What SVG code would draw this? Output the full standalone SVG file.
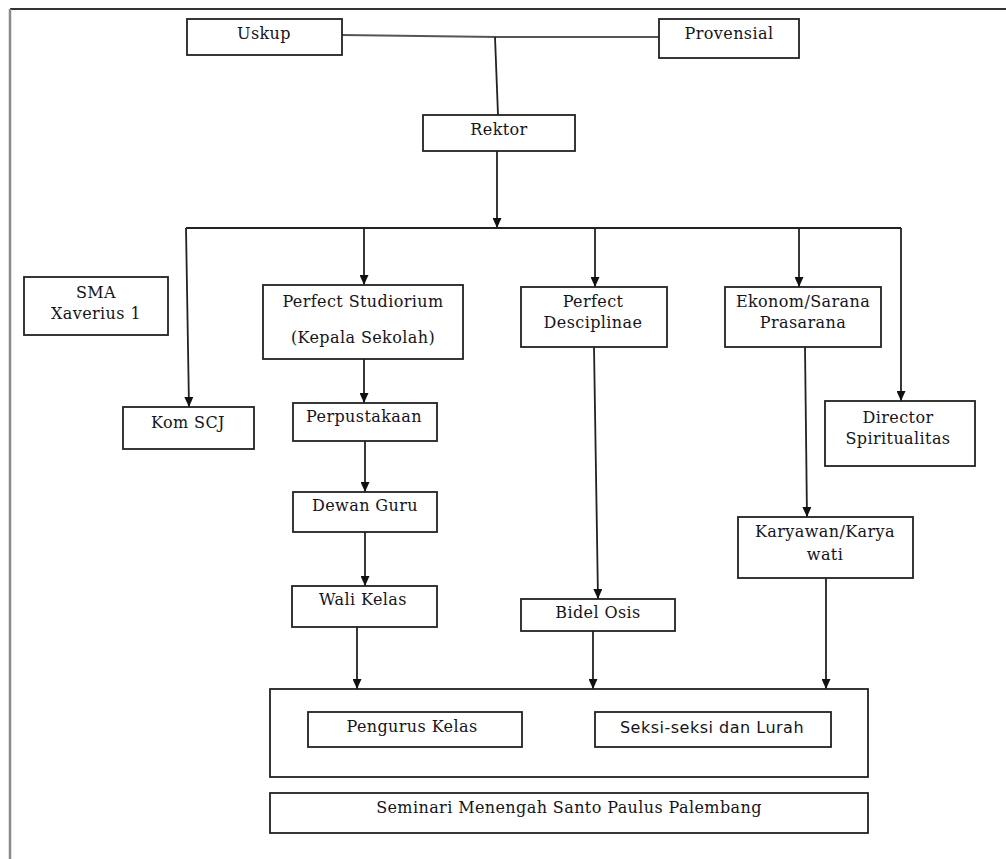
<svg xmlns="http://www.w3.org/2000/svg" width="1006" height="859" viewBox="0 0 1006 859">
<style>
  .box { fill: #ffffff; stroke: #222222; stroke-width: 1.8; }
  .t { font-family: "DejaVu Serif", "Liberation Serif", serif; font-size: 16px; letter-spacing: 0.4px; fill: #141420; text-anchor: middle; }
  .s { font-family: "DejaVu Sans", "Liberation Sans", sans-serif; font-size: 16px; letter-spacing: 0.5px; fill: #141420; text-anchor: middle; }
  .ln { fill: none; stroke: #222222; stroke-width: 1.8; }
  .gl { fill: none; stroke: #555555; stroke-width: 1.8; }
  .arr { fill: none; stroke: #222222; stroke-width: 1.8; marker-end: url(#ah); }
</style>
<defs>
  <marker id="ah" viewBox="0 0 10 9" refX="10" refY="4.5" markerWidth="10" markerHeight="9" markerUnits="userSpaceOnUse" orient="auto">
    <path d="M0,0 L10,4.5 L0,9 z" fill="#111111"/>
  </marker>
</defs>
<rect width="1006" height="859" fill="#ffffff"/>
<g id="frame">
  <line x1="10" y1="9" x2="1006" y2="9" stroke="#333333" stroke-width="1.8"/>
  <line x1="10" y1="9" x2="10" y2="859" stroke="#8a8a8a" stroke-width="2.5"/>
</g>
<g id="connectors">
  <polyline class="gl" points="342,35 497,37 659,37"/>
  <line class="ln" x1="495" y1="37" x2="498" y2="115"/>
  <line class="arr" x1="497" y1="151" x2="497" y2="228"/>
  <line class="ln" x1="186" y1="228" x2="901" y2="228"/>
  <line class="arr" x1="186" y1="228" x2="189" y2="407"/>
  <line class="arr" x1="364" y1="228" x2="364" y2="285"/>
  <line class="arr" x1="595" y1="228" x2="595" y2="287"/>
  <line class="arr" x1="799" y1="228" x2="799" y2="287"/>
  <line class="arr" x1="901" y1="228" x2="901" y2="401"/>
  <line class="arr" x1="364" y1="359" x2="364" y2="403"/>
  <line class="arr" x1="365" y1="441" x2="365" y2="492"/>
  <line class="arr" x1="365" y1="532" x2="365" y2="586"/>
  <line class="arr" x1="357" y1="627" x2="357" y2="689"/>
  <line class="arr" x1="594" y1="347" x2="598" y2="599"/>
  <line class="arr" x1="593" y1="631" x2="593" y2="689"/>
  <line class="arr" x1="805" y1="347" x2="807" y2="517"/>
  <line class="arr" x1="826" y1="578" x2="826" y2="689"/>
</g>
<g id="uskup">
  <rect class="box" x="187" y="19" width="155" height="36"/>
  <text class="t" x="264" y="39">Uskup</text>
</g>
<g id="provensial">
  <rect class="box" x="659" y="19" width="140" height="39"/>
  <text class="t" x="729" y="39">Provensial</text>
</g>
<g id="rektor">
  <rect class="box" x="423" y="115" width="152" height="36"/>
  <text class="t" x="499" y="135">Rektor</text>
</g>
<g id="sma">
  <rect class="box" x="24" y="277" width="144" height="58"/>
  <text class="t" x="96" y="298">SMA</text>
  <text class="t" x="96" y="319">Xaverius 1</text>
</g>
<g id="komscj">
  <rect class="box" x="123" y="407" width="131" height="42"/>
  <text class="t" x="188" y="428">Kom SCJ</text>
</g>
<g id="studiorium">
  <rect class="box" x="263" y="285" width="200" height="74"/>
  <text class="t" x="363" y="307">Perfect Studiorium</text>
  <text class="t" x="363" y="343">(Kepala Sekolah)</text>
</g>
<g id="desciplinae">
  <rect class="box" x="521" y="287" width="146" height="60"/>
  <text class="t" x="593" y="307">Perfect</text>
  <text class="t" x="593" y="328">Desciplinae</text>
</g>
<g id="ekonom">
  <rect class="box" x="725" y="287" width="156" height="60"/>
  <text class="t" x="803" y="307">Ekonom/Sarana</text>
  <text class="t" x="803" y="328">Prasarana</text>
</g>
<g id="director">
  <rect class="box" x="825" y="401" width="150" height="65"/>
  <text class="t" x="898" y="423">Director</text>
  <text class="t" x="898" y="444">Spiritualitas</text>
</g>
<g id="perpustakaan">
  <rect class="box" x="293" y="403" width="144" height="38"/>
  <text class="t" x="364" y="422">Perpustakaan</text>
</g>
<g id="dewanguru">
  <rect class="box" x="293" y="492" width="144" height="40"/>
  <text class="t" x="365" y="511">Dewan Guru</text>
</g>
<g id="walikelas">
  <rect class="box" x="292" y="586" width="145" height="41"/>
  <text class="t" x="363" y="605">Wali Kelas</text>
</g>
<g id="karyawan">
  <rect class="box" x="738" y="517" width="175" height="61"/>
  <text class="t" x="825" y="537">Karyawan/Karya</text>
  <text class="t" x="825" y="560">wati</text>
</g>
<g id="bidelosis">
  <rect class="box" x="521" y="599" width="154" height="32"/>
  <text class="t" x="598" y="618">Bidel Osis</text>
</g>
<g id="group">
  <rect class="box" x="270" y="689" width="598" height="88"/>
</g>
<g id="pengurus">
  <rect class="box" x="308" y="712" width="214" height="35"/>
  <text class="t" x="412" y="732">Pengurus Kelas</text>
</g>
<g id="seksi">
  <rect class="box" x="595" y="712" width="236" height="35"/>
  <text class="s" x="712" y="733">Seksi-seksi dan Lurah</text>
</g>
<g id="seminari">
  <rect class="box" x="270" y="793" width="598" height="40"/>
  <text class="t" x="569" y="813">Seminari Menengah Santo Paulus Palembang</text>
</g>
</svg>
